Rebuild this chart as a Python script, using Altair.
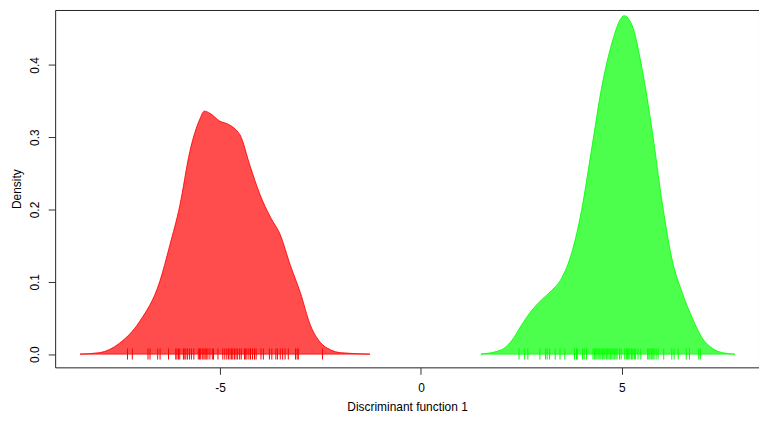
import altair as alt
import pandas as pd

# Density curve for group 1 (red)
red_x = [-8.48, -8.0, -7.5, -7.0, -6.5, -6.25, -6.0, -5.75, -5.5, -5.39, -5.25, -5.0, -4.8, -4.6,
         -4.5, -4.25, -4.0, -3.75, -3.5, -3.25, -3.0, -2.75, -2.5, -2.25, -2.0, -1.27]
red_y = [0.0, 0.002, 0.015, 0.045, 0.10, 0.15, 0.205, 0.28, 0.325, 0.336, 0.333, 0.322, 0.318, 0.31,
         0.303, 0.26, 0.22, 0.19, 0.165, 0.123, 0.085, 0.04, 0.016, 0.006, 0.002, 0.0]

# Density curve for group 2 (green)
green_x = [1.49, 2.0, 2.25, 2.5, 2.75, 3.0, 3.25, 3.5, 3.75, 4.0, 4.25, 4.5, 4.75, 5.0, 5.05,
           5.25, 5.5, 5.75, 6.0, 6.25, 6.5, 6.75, 7.0, 7.25, 7.5, 7.81]
green_y = [0.0, 0.006, 0.018, 0.04, 0.06, 0.075, 0.088, 0.105, 0.14, 0.20, 0.285, 0.37, 0.43, 0.466, 0.468,
           0.455, 0.395, 0.31, 0.21, 0.13, 0.085, 0.05, 0.022, 0.008, 0.002, 0.0]

# Rug values
red_rug = [-7.30, -7.18, -6.79, -6.74, -6.55, -6.49, -6.28, -6.10, -6.07, -6.03, -6.00, -5.91, -5.89,
           -5.85, -5.81, -5.76, -5.71, -5.65, -5.54, -5.51, -5.48, -5.44, -5.40, -5.37, -5.34, -5.30,
           -5.25, -5.19, -5.16, -5.05, -4.93, -4.88, -4.83, -4.79, -4.75, -4.71, -4.68, -4.64, -4.60,
           -4.56, -4.51, -4.47, -4.39, -4.37, -4.33, -4.28, -4.24, -4.19, -4.14, -4.10, -3.98, -3.92,
           -3.77, -3.71, -3.61, -3.57, -3.50, -3.44, -3.38, -3.30, -3.12, -3.08, -3.05, -2.45]
green_rug = [2.44, 2.58, 2.66, 2.96, 3.10, 3.14, 3.20, 3.34, 3.46, 3.58, 3.82, 3.87, 3.89, 4.02, 4.06,
             4.12, 4.28, 4.32, 4.35, 4.38, 4.41, 4.45, 4.48, 4.52, 4.55, 4.58, 4.62, 4.65, 4.68, 4.71,
             4.75, 4.78, 4.81, 4.85, 4.88, 4.94, 4.98, 5.07, 5.11, 5.14, 5.17, 5.20, 5.24, 5.27, 5.31,
             5.34, 5.40, 5.47, 5.64, 5.67, 5.70, 5.74, 5.77, 5.80, 5.85, 5.90, 6.04, 6.24, 6.30, 6.40,
             6.60, 6.68, 6.91, 6.95]

x_ticks = [-5, 0, 5]
y_ticks = [0.0, 0.1, 0.2, 0.3, 0.4]

dens = pd.DataFrame({
    "x": red_x + green_x,
    "y": red_y + green_y,
    "g": ["1"] * len(red_x) + ["2"] * len(green_x),
})
rug = pd.DataFrame({
    "x": red_rug + green_rug,
    "g": ["1"] * len(red_rug) + ["2"] * len(green_rug),
})

FONT = "Liberation Sans"
color_scale = alt.Scale(domain=["1", "2"], range=["#FF0000", "#00FF00"])

xscale = alt.Scale(domain=[-9.10, 8.41], nice=False, zero=False)
yscale = alt.Scale(domain=[-0.0183, 0.4759], nice=False, zero=False)

x_axis = alt.Axis(values=x_ticks, labelExpr="datum.value + ''", title="Discriminant function 1",
                  grid=False, domain=False, tickColor="#333", tickSize=7, labelPadding=8,
                  labelFontSize=12, titleFontSize=12, titleFontWeight="normal", titlePadding=8,
                  labelFont=FONT, titleFont=FONT, labelColor="#000", titleColor="#000")
y_axis = alt.Axis(values=y_ticks, format=".1f", title="Density", grid=False, domain=False,
                  tickColor="#333", tickSize=7, labelAngle=-90, labelAlign="center",
                  labelBaseline="bottom", labelPadding=7, labelFontSize=12, titleFontSize=12,
                  titleFontWeight="normal", titlePadding=5, labelFont=FONT, titleFont=FONT,
                  labelColor="#000", titleColor="#000")

area = alt.Chart(dens).mark_area(
    interpolate="monotone", fillOpacity=0.7, strokeWidth=1, strokeOpacity=0.85
).encode(
    x=alt.X("x:Q", scale=xscale, axis=x_axis),
    y=alt.Y("y:Q", scale=yscale, axis=y_axis),
    y2=alt.datum(0),
    fill=alt.Fill("g:N", scale=color_scale, legend=None),
    stroke=alt.Stroke("g:N", scale=color_scale, legend=None),
    detail="g:N",
)

ticks = alt.Chart(rug).mark_rule(strokeWidth=1).encode(
    x=alt.X("x:Q", scale=xscale),
    y=alt.datum(0.0078, scale=yscale),
    y2=alt.datum(-0.0075),
    color=alt.Color("g:N", scale=color_scale, legend=None),
)

chart = alt.layer(area, ticks).properties(
    width=709, height=360,
    background="white",
    autosize=alt.AutoSizeParams(type="none"),
    padding={"left": 47.5, "top": 0.5, "right": 0, "bottom": 46.5},
).configure_view(stroke="#222", strokeWidth=1)

chart.save("out.html", embed_options={"renderer": "svg", "actions": False})
